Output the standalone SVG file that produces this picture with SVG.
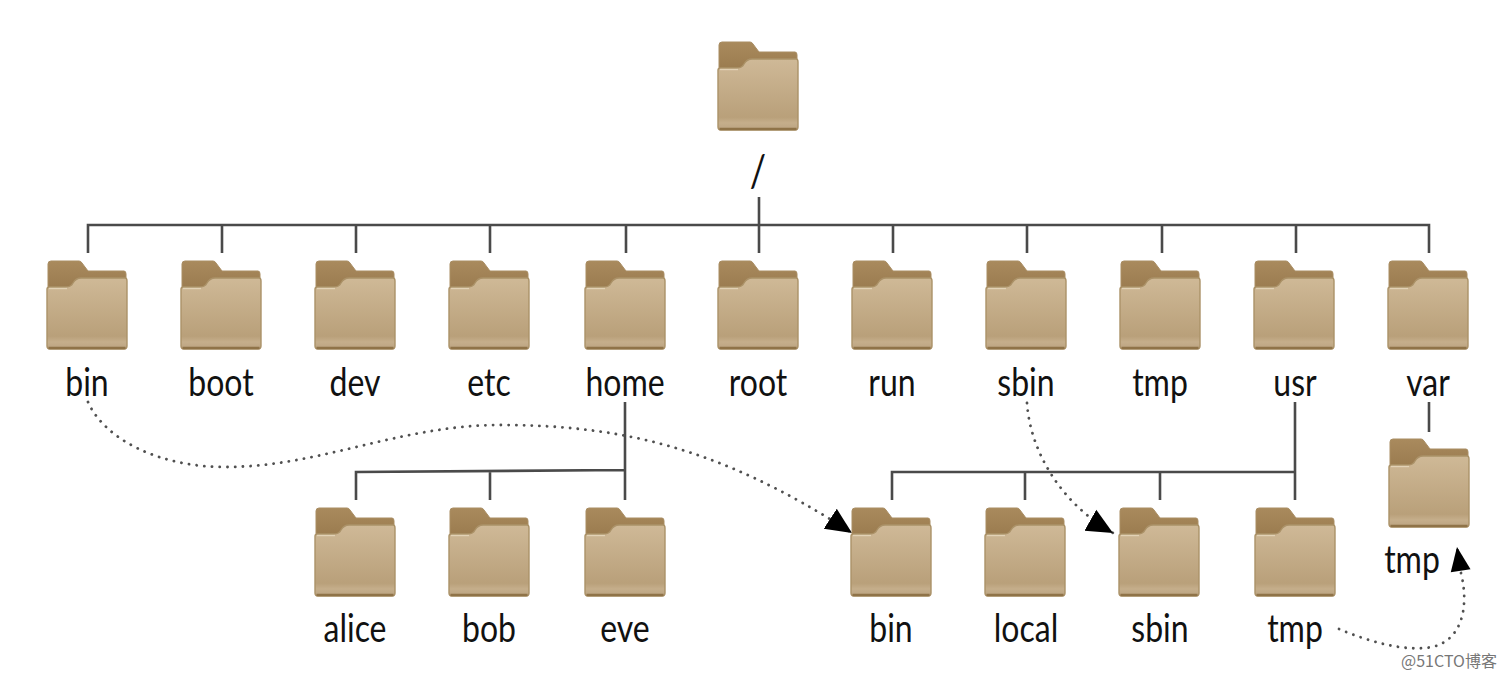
<svg xmlns="http://www.w3.org/2000/svg" width="1507" height="679" viewBox="0 0 1507 679">
<style>
text{font-family:"Lato","Open Sans",sans-serif;font-size:32px;fill:#111;text-anchor:middle}
.line{fill:none;stroke:#4a4a4a;stroke-width:2.6}
.dot{fill:none;stroke:#505050;stroke-width:2.8;stroke-dasharray:0.1 7.6;stroke-linecap:round}
text.wm{font-family:"Noto Sans CJK SC","Noto Sans",sans-serif;font-size:16px;fill:#777}
</style>
<defs>
<linearGradient id="front" x1="0" y1="0" x2="0" y2="1"><stop offset="0" stop-color="#cfb997"/><stop offset="0.82" stop-color="#b9a07a"/><stop offset="0.9" stop-color="#c5ae8b"/><stop offset="1" stop-color="#bba381"/></linearGradient>
<linearGradient id="back" x1="0" y1="0" x2="0" y2="1"><stop offset="0" stop-color="#a98a5d"/><stop offset="1" stop-color="#997a4e"/></linearGradient>
<g id="folder">
<path d="M1 3Q1 0 4 0H32Q34 0 35 2L41 10H77Q79 10 79 13V30H1Z" fill="url(#back)" stroke="#a98d63" stroke-width="1"/>
<path d="M0 28Q0 26 3 26H19Q24 26 26 22Q29 17 34 17H78Q80 17 80 20V85Q80 88 77 88H3Q0 88 0 85Z" fill="url(#front)" stroke="#ab9268" stroke-width="1.4"/>
<path d="M1.5 87H78.5" stroke="#8f7348" stroke-width="2.4" fill="none"/>
<path d="M2 27.5H20" stroke="#e2d2b6" stroke-width="1.4" fill="none"/>
</g>
<marker id="ah" markerUnits="userSpaceOnUse" markerWidth="28" markerHeight="28" refX="26" refY="13" orient="auto"><path d="M0 1L26 13L0 25Z" fill="#000"/></marker>
<marker id="ah2" markerUnits="userSpaceOnUse" markerWidth="28" markerHeight="28" refX="26" refY="13" orient="auto"><path d="M2 3L26 13L2 23Z" fill="#000"/></marker>
</defs>
<g id="connectors">
<path class="line" d="M759 197V253M88 253V225H1429V253M222 225V253M356 225V253M490 225V253M626 225V253M893 225V253M1027 225V253M1162 225V253M1296 225V253"/>
<path class="line" d="M625 402V500M356 500V472L625 470M490 472V500"/>
<path class="line" d="M1295 402V500M892 500V472H1295M1025 472V500M1160 472V500"/>
<path class="line" d="M1429 402V432"/>
<path class="dot" marker-end="url(#ah)" d="M88 402C105 440 160 467 225 467C320 467 400 425 500 425C620 425 720 447 852 533"/>
<path class="dot" marker-end="url(#ah)" d="M1027 403C1030 450 1060 503 1113 533"/>
<path class="dot" marker-end="url(#ah2)" d="M1339 629C1370 642 1405 652 1432 647C1460 641 1470 610 1461 573L1457 547"/>
</g>
<g id="node-root"><use href="#folder" x="718" y="42"/><text transform="translate(758,187) scale(1,1.22)" style="font-size:36px">/</text></g>
<g id="node-bin"><use href="#folder" x="47" y="261"/><text transform="translate(87,396) scale(1,1.22)">bin</text></g>
<g id="node-boot"><use href="#folder" x="181" y="261"/><text transform="translate(221,396) scale(1,1.22)">boot</text></g>
<g id="node-dev"><use href="#folder" x="315" y="261"/><text transform="translate(355,396) scale(1,1.22)">dev</text></g>
<g id="node-etc"><use href="#folder" x="449" y="261"/><text transform="translate(489,396) scale(1,1.22)">etc</text></g>
<g id="node-home"><use href="#folder" x="585" y="261"/><text transform="translate(625,396) scale(1,1.22)">home</text></g>
<g id="node-rootdir"><use href="#folder" x="718" y="261"/><text transform="translate(758,396) scale(1,1.22)">root</text></g>
<g id="node-run"><use href="#folder" x="852" y="261"/><text transform="translate(892,396) scale(1,1.22)">run</text></g>
<g id="node-sbin"><use href="#folder" x="986" y="261"/><text transform="translate(1026,396) scale(1,1.22)">sbin</text></g>
<g id="node-tmp"><use href="#folder" x="1120" y="261"/><text transform="translate(1160,396) scale(1,1.22)">tmp</text></g>
<g id="node-usr"><use href="#folder" x="1254" y="261"/><text transform="translate(1295,396) scale(1,1.22)">usr</text></g>
<g id="node-var"><use href="#folder" x="1388" y="261"/><text transform="translate(1428,396) scale(1,1.22)">var</text></g>
<g id="node-var-tmp"><use href="#folder" x="1389" y="439"/><text transform="translate(1412,573) scale(1,1.22)">tmp</text></g>
<g id="node-alice"><use href="#folder" x="315" y="508"/><text transform="translate(355,642) scale(1,1.22)">alice</text></g>
<g id="node-bob"><use href="#folder" x="449" y="508"/><text transform="translate(489,642) scale(1,1.22)">bob</text></g>
<g id="node-eve"><use href="#folder" x="585" y="508"/><text transform="translate(625,642) scale(1,1.22)">eve</text></g>
<g id="node-usr-bin"><use href="#folder" x="851" y="508"/><text transform="translate(891,642) scale(1,1.22)">bin</text></g>
<g id="node-local"><use href="#folder" x="985" y="508"/><text transform="translate(1026,642) scale(1,1.22)">local</text></g>
<g id="node-usr-sbin"><use href="#folder" x="1119" y="508"/><text transform="translate(1160,642) scale(1,1.22)">sbin</text></g>
<g id="node-usr-tmp"><use href="#folder" x="1255" y="508"/><text transform="translate(1295,642) scale(1,1.22)">tmp</text></g>
<text class="wm" x="1449" y="667">@51CTO博客</text>
</svg>
